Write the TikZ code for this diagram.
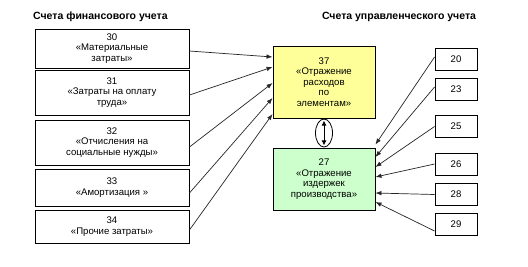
\documentclass[tikz,border=0pt]{standalone}
\usepackage{fontspec}
\setmainfont{Liberation Sans}
\usetikzlibrary{arrows.meta,positioning,shapes.geometric}
\definecolor{costyellow}{HTML}{FFFF99}
\definecolor{costgreen}{HTML}{CCFFCC}
\definecolor{arrowgray}{HTML}{262626}

\begin{document}
\begin{tikzpicture}[x=1pt,y=-1pt,
    acct/.style={draw=black,line width=0.9pt,fill=white,align=center,inner sep=1pt,
      font=\fontsize{9.6}{10.6}\selectfont},
    fin/.style={acct,minimum width=154pt},
    mgmt/.style={acct,minimum width=102pt},
    sub/.style={acct,minimum width=42pt,minimum height=22pt},
    head/.style={font=\fontsize{10.5}{12}\selectfont\bfseries,inner sep=0pt},
    arr/.style={-{Latex[length=6pt,width=4.5pt]},line width=0.7pt,draw=arrowgray},
    dbl/.style={{Latex[length=5pt,width=5pt]}-{Latex[length=5pt,width=5pt]},line width=0.8pt,
      shorten <=2pt,shorten >=2pt}
  ]
  \fill[white] (0,0) rectangle (528,266);

  \node[head,anchor=base west] (finhead) at (33,19.5) {Счета финансового учета};
  \node[head,anchor=base] (mgmthead) at (399,19.5) {Счета управленческого учета};

  \node[fin,minimum height=39pt] (a30) at (112,48.5) {30\\«Материальные\\затраты»};
  \node[fin,minimum height=45pt] (a31) at (112,92.5) {31\\«Затраты на оплату\\труда»};
  \node[fin,minimum height=45pt] (a32) at (112,142.5) {32\\«Отчисления на\\социальные нужды»};
  \node[fin,minimum height=37pt] (a33) at (112,187.5) {33\\«Амортизация »};
  \node[fin,minimum height=33pt] (a34) at (112,226.5) {34\\«Прочие затраты»};

  \node[mgmt,fill=costyellow,minimum height=72pt] (b37) at (324,82)
    {37\\«Отражение\\расходов\\по\\элементам»};
  \node[mgmt,fill=costgreen,minimum height=62pt] (b27) at (324,179)
    {27\\«Отражение\\издержек\\производства»};
  \node[draw,ellipse,line width=0.8pt,minimum width=17pt,minimum height=28pt,inner sep=0pt]
    (link) at (324,133) {};
  \draw[dbl] (link.north) -- (link.south);

  \foreach \num/\y in {20/59,23/89,25/126.5,26/164,28/194.5,29/224.5}
    \node[sub] (c\num) at (456,\y) {\num};

  \foreach \num/\s/\e in {30/-2.5/25,31/-2.5/15,32/-4.5/-1,33/-5.5/-16,34/-3.5/-32}
    \draw[arr] ([yshift=\s pt]a\num.east) -- ([yshift=\e pt]b37.west);

  \draw[arr] ([yshift=2pt]c20.west) -- ([yshift=3pt]b27.north east);
  \foreach \num/\s/\e in {23/2/22,25/0/12,26/0/2,28/0/-14,29/-6.5/-23}
    \draw[arr] ([yshift=\s pt]c\num.west) -- ([yshift=\e pt]b27.east);
\end{tikzpicture}
\end{document}
